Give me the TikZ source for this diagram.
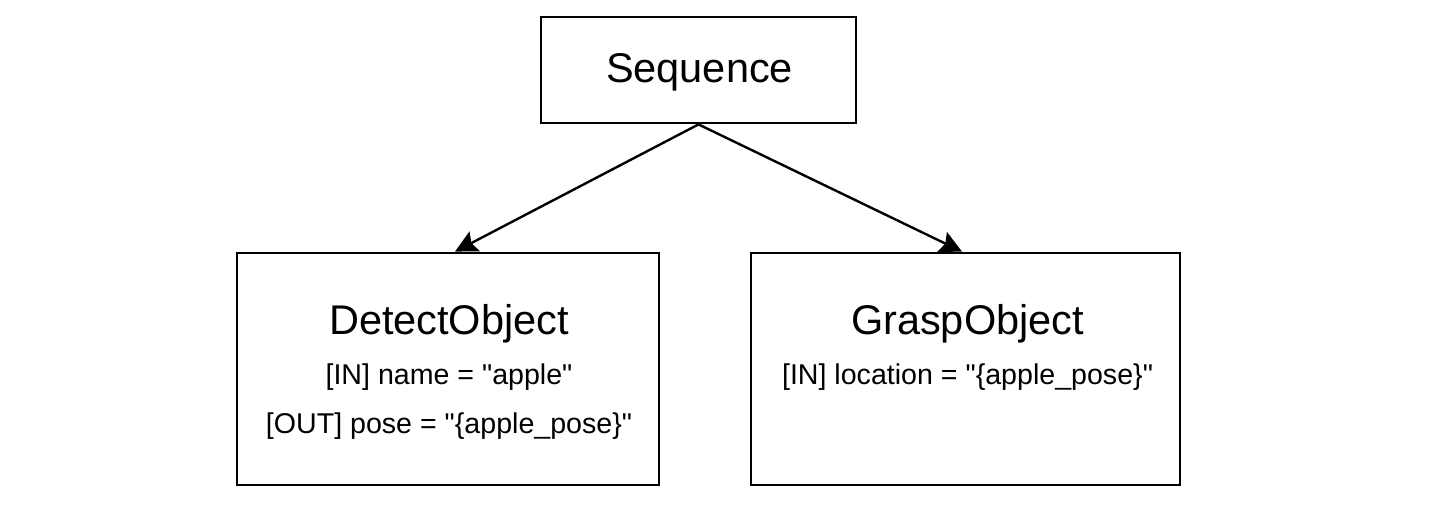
\documentclass[tikz,border=0pt]{standalone}
\usepackage{fontspec}
\setmainfont{Liberation Sans}[Ligatures=TeXOff]
\usetikzlibrary{arrows.meta}
\begin{document}
\begin{tikzpicture}[x=1pt,y=1pt,
  box/.style={draw=black,line width=2.8pt,fill=white,minimum width=#1,inner sep=0pt},
  title/.style={anchor=base,inner sep=0pt,font=\fontsize{41.5}{41.5}\selectfont},
  param/.style={anchor=base,inner sep=0pt,font=\fontsize{28.6}{28.6}\selectfont},
  conn/.style={line width=2.4pt,-{Stealth[length=22pt,width=22pt,inset=3.5pt]}}]
\useasboundingbox (0,0) rectangle (1440,507);
\node[box=315pt,minimum height=106pt] (seq) at (698.5,437) {};
\node[box=422pt,minimum height=232pt] (det) at (448,138) {};
\node[box=429pt,minimum height=232pt] (grasp) at (965.5,138) {};
\node[title] (seqt) at (699.5,424) {Sequence};
\node[title] (dett) at (449,173) {DetectObject};
\node[param] (detin) at (449,123) {[IN] name = "apple"};
\node[param] (detout) at (449,74) {[OUT] pose = "\{apple\_pose\}"};
\node[title] (graspt) at (967.5,173) {GraspObject};
\node[param] (graspin) at (967.5,123) {[IN] location = "\{apple\_pose\}"};
\draw[conn] (seq.south) -- ([xshift=7pt]det.north);
\draw[conn] (seq.south) -- ([xshift=-3.5pt]grasp.north);
\end{tikzpicture}
\end{document}
